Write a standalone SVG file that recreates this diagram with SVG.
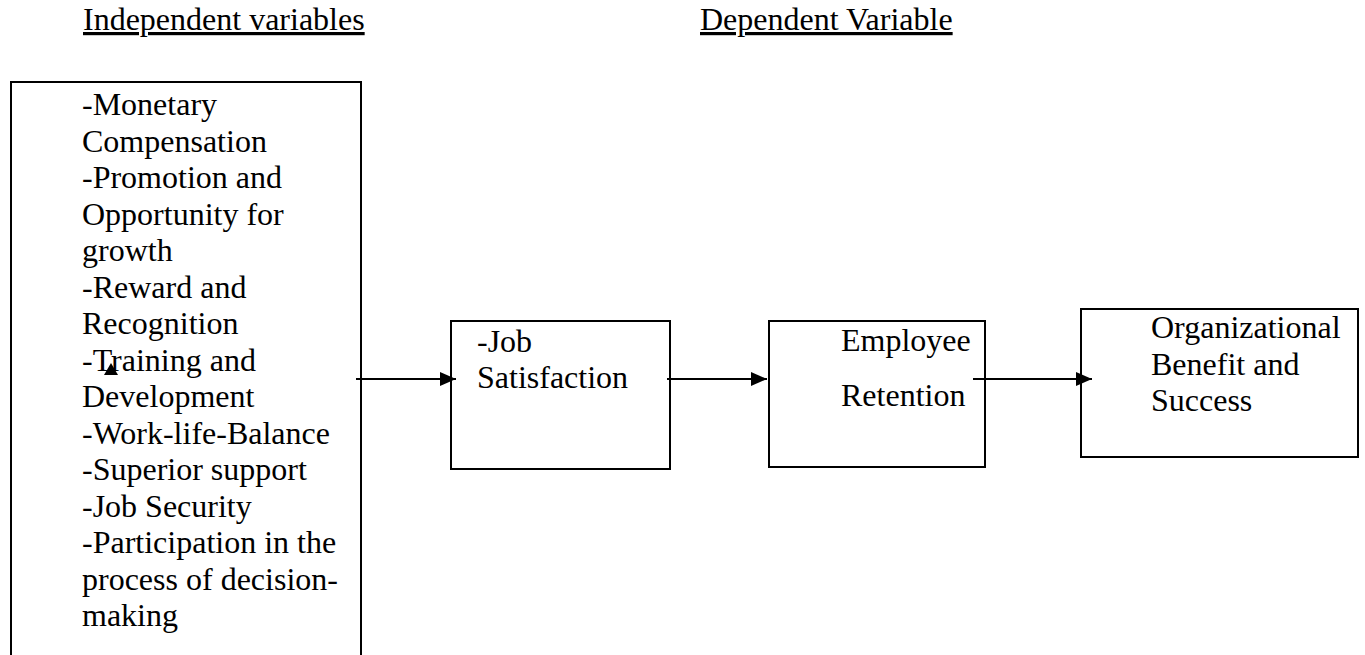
<svg xmlns="http://www.w3.org/2000/svg" width="1365" height="655" viewBox="0 0 1365 655" font-family="Liberation Serif, DejaVu Serif, serif" font-size="32">
<style>
.t{font-family:'Liberation Serif','DejaVu Serif',serif;font-size:32px;fill:#000}
.box{fill:#fff;stroke:#000;stroke-width:2}
.conn{stroke:#000;stroke-width:2;fill:none}
.u{text-decoration:underline}
</style>
<defs>
<marker id="ah" markerWidth="16" markerHeight="14" refX="16" refY="7" orient="auto" markerUnits="userSpaceOnUse">
<path d="M0,0 L16,7 L0,14 Z" fill="#000"/>
</marker>
</defs>
<rect width="1365" height="655" fill="#fff"/>
<g id="headers" class="t">
<text x="83" y="30" class="t u">Independent variables</text>
<text x="700" y="30" class="t u">Dependent Variable</text>
</g>
<g id="node-independent" class="t">
<rect class="box" x="11" y="82" width="350" height="590"/>
<text class="t" x="82" y="115">-Monetary</text>
<text class="t" x="82" y="151.5">Compensation</text>
<text class="t" x="82" y="188">-Promotion and</text>
<text class="t" x="82" y="224.5">Opportunity for</text>
<text class="t" x="82" y="261">growth</text>
<text class="t" x="82" y="297.5">-Reward and</text>
<text class="t" x="82" y="334">Recognition</text>
<text class="t" x="82" y="370.5">-Training and</text>
<text class="t" x="82" y="407">Development</text>
<text class="t" x="82" y="443.5">-Work-life-Balance</text>
<text class="t" x="82" y="480">-Superior support</text>
<text class="t" x="82" y="516.5">-Job Security</text>
<text class="t" x="82" y="553">-Participation in the</text>
<text class="t" x="82" y="589.5">process of decision-</text>
<text class="t" x="82" y="626">making</text>
</g>
<g id="node-job" class="t">
<rect class="box" x="451" y="321" width="219" height="148"/>
<text class="t" x="477" y="352">-Job</text>
<text class="t" x="477" y="388">Satisfaction</text>
</g>
<g id="node-retention" class="t">
<rect class="box" x="769" y="321" width="216" height="146"/>
<text class="t" x="841" y="351">Employee</text>
<text class="t" x="841" y="406">Retention</text>
</g>
<g id="node-org" class="t">
<rect class="box" x="1081" y="309" width="277" height="148"/>
<text class="t" x="1151" y="338">Organizational</text>
<text class="t" x="1151" y="374.5">Benefit and</text>
<text class="t" x="1151" y="411">Success</text>
</g>
<g id="connectors">
<line class="conn" x1="356" y1="379" x2="456" y2="379" marker-end="url(#ah)"/>
<line class="conn" x1="667" y1="379" x2="767" y2="379" marker-end="url(#ah)"/>
<line class="conn" x1="973" y1="379" x2="1092" y2="379" marker-end="url(#ah)"/>
<polygon points="111,363 104,375 118,375" fill="#000"/>
</g>
</svg>
